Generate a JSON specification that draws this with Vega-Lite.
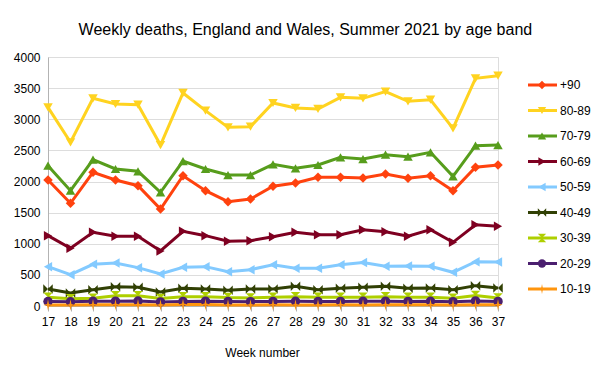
{
  "$schema": "https://vega.github.io/schema/vega-lite/v6.json",
  "background": "white",
  "padding": {"left": 12, "top": 21, "right": 5, "bottom": 5},
  "title": {"text": "Weekly deaths, England and Wales, Summer 2021 by age band", "fontSize": 16, "font": "Liberation Sans", "fontWeight": "normal", "color": "black", "anchor": "middle", "offset": 13},
  "config": {
    "font": "Liberation Sans",
    "view": {"stroke": "#dddddd"},
    "concat": {"spacing": 20},
    "axis": {"labelFont": "Liberation Sans", "labelFontSize": 12, "labelColor": "black", "titleFont": "Liberation Sans", "titleFontSize": 12, "titleFontWeight": "normal", "titleColor": "black", "domainColor": "#b3b3b3", "tickColor": "#b3b3b3"}
  },
  "datasets": {
    "deaths": [
      {"week":17,"band":"+90","deaths":2024},{"week":18,"band":"+90","deaths":1650},{"week":19,"band":"+90","deaths":2147},{"week":20,"band":"+90","deaths":2024},{"week":21,"band":"+90","deaths":1933},{"week":22,"band":"+90","deaths":1558},{"week":23,"band":"+90","deaths":2093},{"week":24,"band":"+90","deaths":1852},{"week":25,"band":"+90","deaths":1676},{"week":26,"band":"+90","deaths":1719},{"week":27,"band":"+90","deaths":1923},{"week":28,"band":"+90","deaths":1976},{"week":29,"band":"+90","deaths":2067},{"week":30,"band":"+90","deaths":2067},{"week":31,"band":"+90","deaths":2056},{"week":32,"band":"+90","deaths":2120},{"week":33,"band":"+90","deaths":2051},{"week":34,"band":"+90","deaths":2093},{"week":35,"band":"+90","deaths":1852},{"week":36,"band":"+90","deaths":2228},{"week":37,"band":"+90","deaths":2265},
      {"week":17,"band":"80-89","deaths":3190},{"week":18,"band":"80-89","deaths":2630},{"week":19,"band":"80-89","deaths":3336},{"week":20,"band":"80-89","deaths":3245},{"week":21,"band":"80-89","deaths":3234},{"week":22,"band":"80-89","deaths":2586},{"week":23,"band":"80-89","deaths":3422},{"week":24,"band":"80-89","deaths":3138},{"week":25,"band":"80-89","deaths":2870},{"week":26,"band":"80-89","deaths":2881},{"week":27,"band":"80-89","deaths":3261},{"week":28,"band":"80-89","deaths":3181},{"week":29,"band":"80-89","deaths":3165},{"week":30,"band":"80-89","deaths":3352},{"week":31,"band":"80-89","deaths":3336},{"week":32,"band":"80-89","deaths":3443},{"week":33,"band":"80-89","deaths":3288},{"week":34,"band":"80-89","deaths":3314},{"week":35,"band":"80-89","deaths":2854},{"week":36,"band":"80-89","deaths":3658},{"week":37,"band":"80-89","deaths":3700},
      {"week":17,"band":"70-79","deaths":2254},{"week":18,"band":"70-79","deaths":1852},{"week":19,"band":"70-79","deaths":2351},{"week":20,"band":"70-79","deaths":2201},{"week":21,"band":"70-79","deaths":2164},{"week":22,"band":"70-79","deaths":1826},{"week":23,"band":"70-79","deaths":2329},{"week":24,"band":"70-79","deaths":2201},{"week":25,"band":"70-79","deaths":2104},{"week":26,"band":"70-79","deaths":2104},{"week":27,"band":"70-79","deaths":2276},{"week":28,"band":"70-79","deaths":2212},{"week":29,"band":"70-79","deaths":2265},{"week":30,"band":"70-79","deaths":2388},{"week":31,"band":"70-79","deaths":2361},{"week":32,"band":"70-79","deaths":2431},{"week":33,"band":"70-79","deaths":2399},{"week":34,"band":"70-79","deaths":2469},{"week":35,"band":"70-79","deaths":2083},{"week":36,"band":"70-79","deaths":2575},{"week":37,"band":"70-79","deaths":2586},
      {"week":17,"band":"60-69","deaths":1130},{"week":18,"band":"60-69","deaths":927},{"week":19,"band":"60-69","deaths":1183},{"week":20,"band":"60-69","deaths":1120},{"week":21,"band":"60-69","deaths":1120},{"week":22,"band":"60-69","deaths":884},{"week":23,"band":"60-69","deaths":1200},{"week":24,"band":"60-69","deaths":1130},{"week":25,"band":"60-69","deaths":1039},{"week":26,"band":"60-69","deaths":1049},{"week":27,"band":"60-69","deaths":1113},{"week":28,"band":"60-69","deaths":1183},{"week":29,"band":"60-69","deaths":1146},{"week":30,"band":"60-69","deaths":1146},{"week":31,"band":"60-69","deaths":1226},{"week":32,"band":"60-69","deaths":1194},{"week":33,"band":"60-69","deaths":1120},{"week":34,"band":"60-69","deaths":1226},{"week":35,"band":"60-69","deaths":1023},{"week":36,"band":"60-69","deaths":1306},{"week":37,"band":"60-69","deaths":1280},
      {"week":17,"band":"50-59","deaths":632},{"week":18,"band":"50-59","deaths":503},{"week":19,"band":"50-59","deaths":670},{"week":20,"band":"50-59","deaths":691},{"week":21,"band":"50-59","deaths":616},{"week":22,"band":"50-59","deaths":514},{"week":23,"band":"50-59","deaths":621},{"week":24,"band":"50-59","deaths":632},{"week":25,"band":"50-59","deaths":552},{"week":26,"band":"50-59","deaths":584},{"week":27,"band":"50-59","deaths":664},{"week":28,"band":"50-59","deaths":605},{"week":29,"band":"50-59","deaths":605},{"week":30,"band":"50-59","deaths":664},{"week":31,"band":"50-59","deaths":700},{"week":32,"band":"50-59","deaths":637},{"week":33,"band":"50-59","deaths":643},{"week":34,"band":"50-59","deaths":637},{"week":35,"band":"50-59","deaths":541},{"week":36,"band":"50-59","deaths":712},{"week":37,"band":"50-59","deaths":707},
      {"week":17,"band":"40-49","deaths":273},{"week":18,"band":"40-49","deaths":209},{"week":19,"band":"40-49","deaths":262},{"week":20,"band":"40-49","deaths":310},{"week":21,"band":"40-49","deaths":300},{"week":22,"band":"40-49","deaths":225},{"week":23,"band":"40-49","deaths":284},{"week":24,"band":"40-49","deaths":273},{"week":25,"band":"40-49","deaths":252},{"week":26,"band":"40-49","deaths":273},{"week":27,"band":"40-49","deaths":273},{"week":28,"band":"40-49","deaths":316},{"week":29,"band":"40-49","deaths":262},{"week":30,"band":"40-49","deaths":284},{"week":31,"band":"40-49","deaths":300},{"week":32,"band":"40-49","deaths":316},{"week":33,"band":"40-49","deaths":284},{"week":34,"band":"40-49","deaths":289},{"week":35,"band":"40-49","deaths":262},{"week":36,"band":"40-49","deaths":327},{"week":37,"band":"40-49","deaths":289},
      {"week":17,"band":"30-39","deaths":140},{"week":18,"band":"30-39","deaths":115},{"week":19,"band":"30-39","deaths":125},{"week":20,"band":"30-39","deaths":165},{"week":21,"band":"30-39","deaths":165},{"week":22,"band":"30-39","deaths":120},{"week":23,"band":"30-39","deaths":150},{"week":24,"band":"30-39","deaths":150},{"week":25,"band":"30-39","deaths":135},{"week":26,"band":"30-39","deaths":130},{"week":27,"band":"30-39","deaths":140},{"week":28,"band":"30-39","deaths":150},{"week":29,"band":"30-39","deaths":140},{"week":30,"band":"30-39","deaths":140},{"week":31,"band":"30-39","deaths":140},{"week":32,"band":"30-39","deaths":150},{"week":33,"band":"30-39","deaths":140},{"week":34,"band":"30-39","deaths":140},{"week":35,"band":"30-39","deaths":125},{"week":36,"band":"30-39","deaths":170},{"week":37,"band":"30-39","deaths":130},
      {"week":17,"band":"20-29","deaths":72},{"week":18,"band":"20-29","deaths":68},{"week":19,"band":"20-29","deaths":75},{"week":20,"band":"20-29","deaths":78},{"week":21,"band":"20-29","deaths":80},{"week":22,"band":"20-29","deaths":66},{"week":23,"band":"20-29","deaths":74},{"week":24,"band":"20-29","deaths":78},{"week":25,"band":"20-29","deaths":72},{"week":26,"band":"20-29","deaths":70},{"week":27,"band":"20-29","deaths":74},{"week":28,"band":"20-29","deaths":76},{"week":29,"band":"20-29","deaths":72},{"week":30,"band":"20-29","deaths":74},{"week":31,"band":"20-29","deaths":76},{"week":32,"band":"20-29","deaths":78},{"week":33,"band":"20-29","deaths":74},{"week":34,"band":"20-29","deaths":76},{"week":35,"band":"20-29","deaths":70},{"week":36,"band":"20-29","deaths":82},{"week":37,"band":"20-29","deaths":74},
      {"week":17,"band":"10-19","deaths":18},{"week":18,"band":"10-19","deaths":15},{"week":19,"band":"10-19","deaths":20},{"week":20,"band":"10-19","deaths":22},{"week":21,"band":"10-19","deaths":20},{"week":22,"band":"10-19","deaths":16},{"week":23,"band":"10-19","deaths":25},{"week":24,"band":"10-19","deaths":24},{"week":25,"band":"10-19","deaths":18},{"week":26,"band":"10-19","deaths":16},{"week":27,"band":"10-19","deaths":20},{"week":28,"band":"10-19","deaths":18},{"week":29,"band":"10-19","deaths":17},{"week":30,"band":"10-19","deaths":20},{"week":31,"band":"10-19","deaths":18},{"week":32,"band":"10-19","deaths":20},{"week":33,"band":"10-19","deaths":19},{"week":34,"band":"10-19","deaths":22},{"week":35,"band":"10-19","deaths":18},{"week":36,"band":"10-19","deaths":22},{"week":37,"band":"10-19","deaths":20}
    ],
    "legendrows": [
      {"band":"+90"},{"band":"80-89"},{"band":"70-79"},{"band":"60-69"},{"band":"50-59"},{"band":"40-49"},{"band":"30-39"},{"band":"20-29"},{"band":"10-19"}
    ]
  },
  "hconcat": [
    {
      "width": 450,
      "height": 249,
      "data": {"name": "deaths"},
      "encoding": {
        "x": {"field": "week", "type": "quantitative", "scale": {"domain": [17, 37], "nice": false, "zero": false},
          "axis": {"title": "Week number", "values": [17,18,19,20,21,22,23,24,25,26,27,28,29,30,31,32,33,34,35,36,37], "format": "d", "grid": false, "tickSize": 5, "labelPadding": 5, "labelFlush": false, "labelOverlap": false, "titlePadding": 20, "titleX": 214}},
        "y": {"field": "deaths", "type": "quantitative", "scale": {"domain": [0, 4000], "nice": false},
          "axis": {"title": null, "values": [0,500,1000,1500,2000,2500,3000,3500,4000], "format": "d", "ticks": false, "labelPadding": 8, "labelFlush": false, "grid": true, "gridColor": "#dddddd"}},
        "color": {"field": "band", "type": "nominal",
          "scale": {"domain": ["+90","80-89","70-79","60-69","50-59","40-49","30-39","20-29","10-19"], "range": ["#ff420e","#ffd320","#579d1c","#7e0021","#83caff","#314004","#aecf00","#4b1f6f","#ff950e"]},
          "legend": null}
      },
      "layer": [
        {"mark": {"type": "line", "strokeWidth": 3}},
        {"mark": {"type": "point", "filled": true, "size": 90, "opacity": 1, "strokeWidth": 0},
          "encoding": {"shape": {"field": "band", "type": "nominal",
            "scale": {"domain": ["+90","80-89","70-79","60-69","50-59","40-49","30-39","20-29","10-19"], "range": ["diamond","triangle-down","triangle-up","triangle-right","triangle-left","M-1,-1L0,0L-1,1ZM1,-1L0,0L1,1Z","M-1,-1L1,-1L0,0ZM-1,1L1,1L0,0Z","circle","M0,-1.2L0.2,-0.2L1,0L0.2,0.2L0,1.2L-0.2,0.2L-1,0L-0.2,-0.2Z"]},
            "legend": null}}}
      ]
    },
    {
      "width": 70,
      "height": 249,
      "view": {"stroke": null},
      "data": {"name": "legendrows"},
      "encoding": {
        "y": {"field": "band", "type": "nominal", "sort": null,
          "scale": {"type": "point", "padding": 0, "domain": ["+90","80-89","70-79","60-69","50-59","40-49","30-39","20-29","10-19"], "range": [28, 232]}, "axis": null}
      },
      "layer": [
        {"mark": {"type": "rule", "strokeWidth": 3},
          "encoding": {"x": {"datum": 0, "type": "quantitative", "scale": {"domain": [0, 1], "nice": false}, "axis": null}, "x2": {"datum": 0.414},
            "color": {"field": "band", "type": "nominal", "scale": {"domain": ["+90","80-89","70-79","60-69","50-59","40-49","30-39","20-29","10-19"], "range": ["#ff420e","#ffd320","#579d1c","#7e0021","#83caff","#314004","#aecf00","#4b1f6f","#ff950e"]}, "legend": null}}},
        {"mark": {"type": "point", "filled": true, "size": 70, "opacity": 1, "strokeWidth": 0},
          "encoding": {"x": {"datum": 0.2, "type": "quantitative"},
            "color": {"field": "band", "type": "nominal", "legend": null},
            "shape": {"field": "band", "type": "nominal",
              "scale": {"domain": ["+90","80-89","70-79","60-69","50-59","40-49","30-39","20-29","10-19"], "range": ["diamond","triangle-down","triangle-up","triangle-right","triangle-left","M-1,-1L0,0L-1,1ZM1,-1L0,0L1,1Z","M-1,-1L1,-1L0,0ZM-1,1L1,1L0,0Z","circle","M0,-1.2L0.2,-0.2L1,0L0.2,0.2L0,1.2L-0.2,0.2L-1,0L-0.2,-0.2Z"]},
              "legend": null}}},
        {"mark": {"type": "text", "align": "left", "baseline": "middle", "fontSize": 12, "color": "black", "font": "Liberation Sans"},
          "encoding": {"x": {"datum": 0.457, "type": "quantitative"}, "text": {"field": "band"}}}
      ]
    }
  ]
}
